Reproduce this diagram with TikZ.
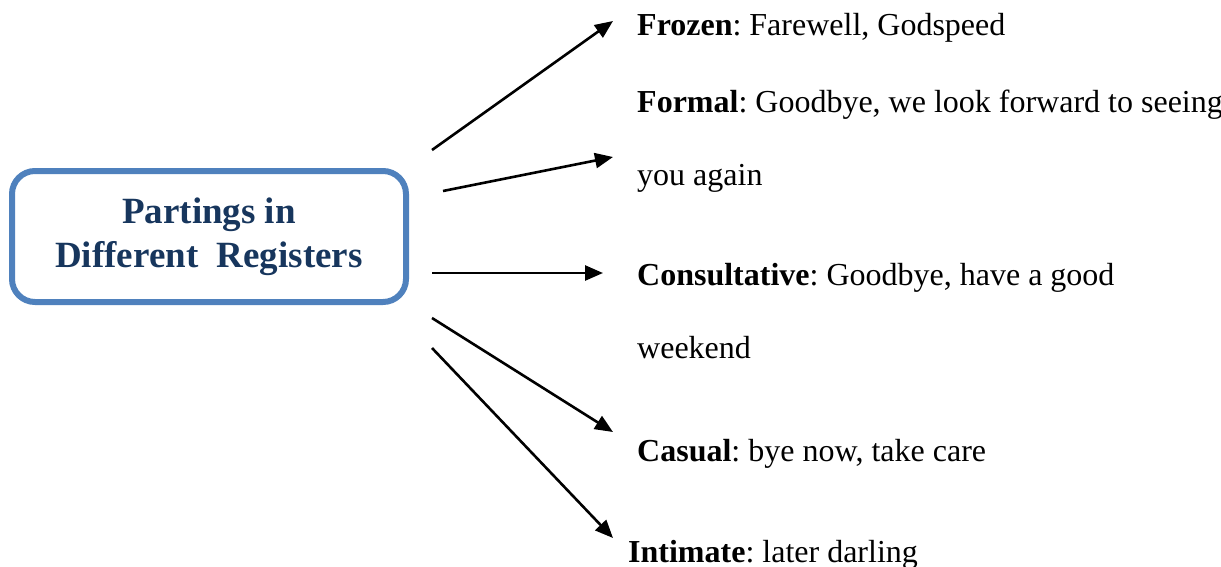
\documentclass[tikz,border=0pt]{standalone}
\usepackage{fontspec}
\setmainfont{Liberation Serif}
\usetikzlibrary{arrows.meta}
\definecolor{hubline}{HTML}{4F81BD}
\definecolor{hubtext}{HTML}{17365D}
\frenchspacing

\begin{document}
\begin{tikzpicture}[x=1pt,y=-1pt,
        hub/.style={draw=hubline, line width=6pt, rounded corners=23pt,
            minimum width=394pt, minimum height=131pt, align=center,
            text=hubtext, font=\fontsize{37}{44}\selectfont\bfseries},
        reg/.style={anchor=base west, inner sep=0pt, align=left,
            font=\fontsize{32}{72.5}\selectfont},
        arr/.style={-{Triangle[length=18pt,width=15pt]}, line width=2.6pt}]
    \useasboundingbox (0,0) rectangle (1221,566);

    \node(hub) at (209,236.5) [hub] {Partings in\\Different\ \ Registers};

    % base west of a wrapped text is on its last line
    \node(frozen) at (637,35) [reg] {\textbf{Frozen}: Farewell, Godspeed};
    \node(formal) at (637,185) [reg] {\textbf{Formal}: Goodbye, we look forward to seeing\\you again};
    \node(consult) at (637,358) [reg] {\textbf{Consultative}: Goodbye, have a good\\weekend};
    \node(casual) at (637,461) [reg] {\textbf{Casual}: bye now, take care};
    \node(intimate) at (628,562) [reg] {\textbf{Intimate}: later darling};

    % arrow ends
    \coordinate(s1) at (432,150);
    \coordinate(t1) at (613,21);
    \coordinate(s2) at (443,191);
    \coordinate(t2) at (613,157);
    \coordinate(s3) at (432,273);
    \coordinate(t3) at (603,273);
    \coordinate(s4) at (432,318);
    \coordinate(t4) at (613,432);
    \coordinate(s5) at (432,348);
    \coordinate(t5) at (613,538);

    \foreach \i in {1,...,5}
        \draw[arr] (s\i) -- (t\i);
\end{tikzpicture}
\end{document}
